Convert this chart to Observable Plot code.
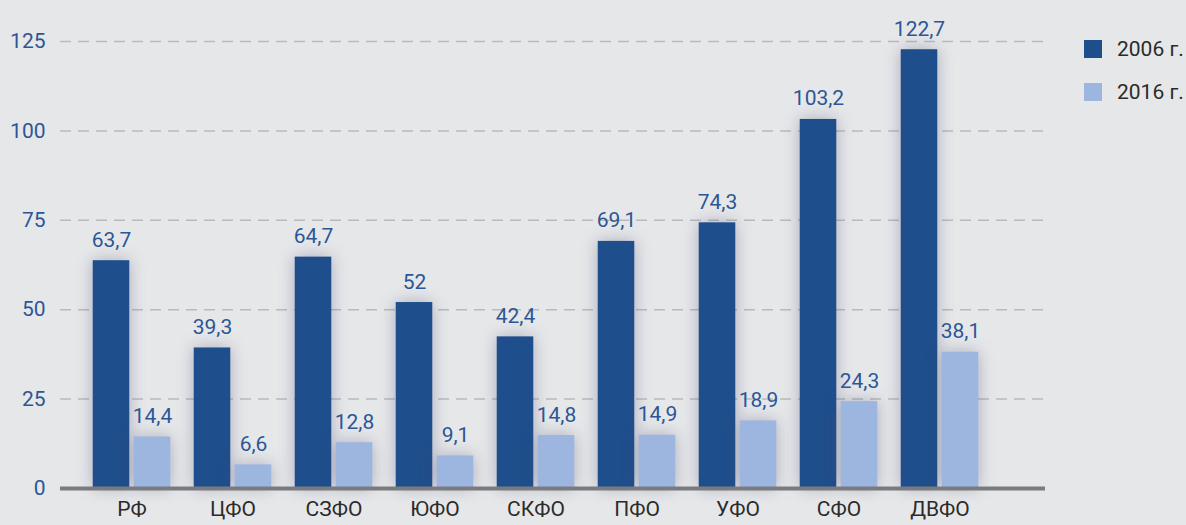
<!DOCTYPE html>
<html><head><meta charset="utf-8">
<script src="https://cdn.jsdelivr.net/npm/d3@7"></script>
<script src="https://cdn.jsdelivr.net/npm/@observablehq/plot@0.6"></script>
<style>
html,body{margin:0;padding:0;background:#e6e7e9;}
#wrap{position:relative;width:1186px;height:525px;background:#e6e7e9;font-family:Roboto,sans-serif;}
#legend{position:absolute;left:1084px;top:27px;font-size:21px;color:#2b2b2b;white-space:nowrap;}
.li{display:flex;align-items:center;height:43px;}
.sw{width:18px;height:18px;margin-right:15px;flex:none;}
</style></head><body>
<div id="wrap"><div id="legend"></div></div>
<script>
const regions = ["РФ","ЦФО","СЗФО","ЮФО","СКФО","ПФО","УФО","СФО","ДВФО"];
const years = ["2006 г.","2016 г."];
const values2006 = [63.7,39.3,64.7,52,42.4,69.1,74.3,103.2,122.7];
const values2016 = [14.4,6.6,12.8,9.1,14.8,14.9,18.9,24.3,38.1];
const yTicks = [0,25,50,75,100,125];
const colors = ["#1f4e8c","#9db6df"];

const d06 = regions.map((r,i)=>({region:r, value:values2006[i]}));
const d16 = regions.map((r,i)=>({region:r, value:values2016[i]}));
const fmt = v => String(v).replace(".", ",");

const bw = (992-79)/regions.length;
const font = `Roboto,sans-serif`;

const chart = Plot.plot({
  width: 1186, height: 525,
  marginLeft: 60, marginRight: 141, marginTop: 41, marginBottom: 37,
  style: {background: "transparent", fontFamily: font, fontSize: "21px"},
  x: {domain: regions, range: [79, 992], padding: 0, label: null},
  y: {domain: [0, 125], label: null},
  marks: [
    Plot.ruleY(yTicks.filter(d=>d>0), {stroke: "#b9babd", strokeWidth: 1.5, strokeDasharray: "11,7"}),
    Plot.barY(d06, {x: "region", y: "value", fill: colors[0], insetLeft: bw/2-39, insetRight: bw/2+2}),
    Plot.barY(d16, {x: "region", y: "value", fill: colors[1], insetLeft: bw/2+2, insetRight: bw/2-39}),
    Plot.text(d06, {x: "region", y: "value", text: d=>fmt(d.value), dx: -20.5, dy: -14, lineAnchor: "bottom", fill: "#2c5696", fontSize: 21}),
    Plot.text(d16, {x: "region", y: "value", text: d=>fmt(d.value), dx: 20.5, dy: -14, lineAnchor: "bottom", fill: "#2c5696", fontSize: 21}),
    Plot.ruleY([0], {stroke: "#7a7b7f", strokeWidth: 4}),
    Plot.axisY({ticks: yTicks, tickSize: 0, tickPadding: 15, color: "#2c5696", fontSize: 21}),
    Plot.axisX({tickSize: 0, tickPadding: 13, color: "#2b2b2b", fontSize: 21})
  ]
});
chart.style.position = "absolute";
chart.style.left = "0"; chart.style.top = "0";
document.getElementById("wrap").appendChild(chart);
d3.select(chart).selectAll('g[aria-label="bar"]').style("filter", "drop-shadow(0px 0px 8px rgba(60,70,110,0.35))");

const lg = d3.select("#legend");
years.forEach((y,i)=>{
  const row = lg.append("div").attr("class","li");
  row.append("div").attr("class","sw").style("background", colors[i]);
  row.append("span").text(y);
});
</script>
</body></html>
